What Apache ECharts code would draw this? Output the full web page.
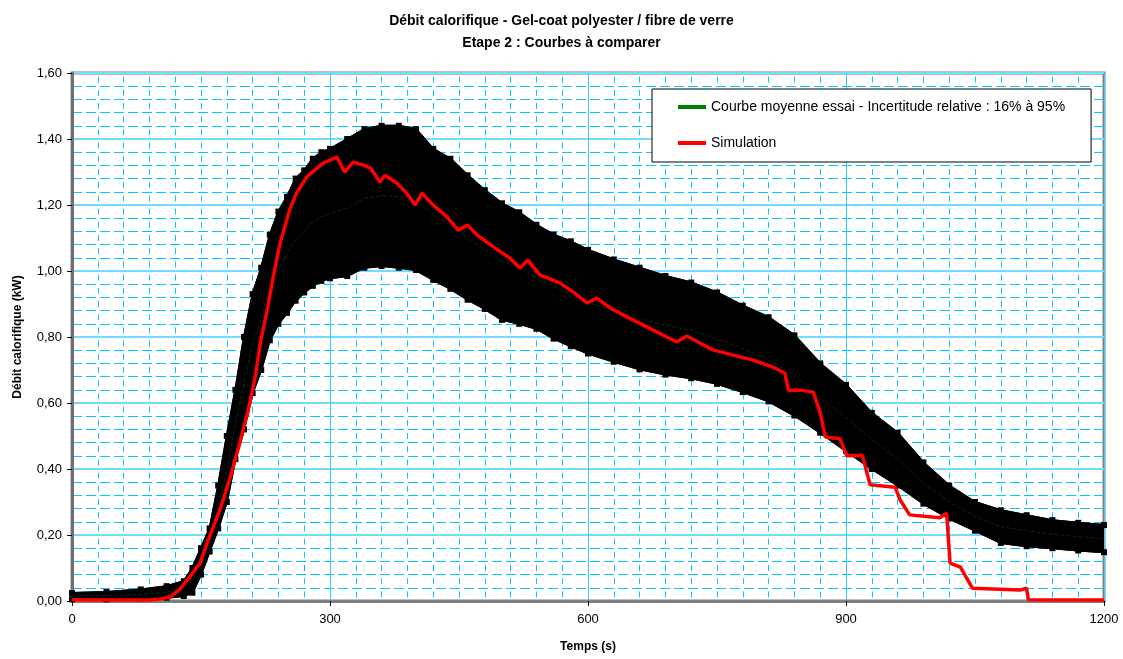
<!DOCTYPE html>
<html>
<head>
<meta charset="utf-8">
<script src="https://cdn.jsdelivr.net/npm/echarts@6/dist/echarts.min.js"></script>
<style>
html,body{margin:0;padding:0;background:#fff;}
#chart{width:1123px;height:659px;}
</style>
</head>
<body>
<div id="chart"></div>
<script>
// ---- Data ----
const bandTime = [0,40,80,110,130,140,150,160,170,180,190,200,210,220,230,240,250,260,270,280,290,300,320,340,360,380,400,420,440,460,480,500,520,540,560,580,600,630,660,690,720,750,780,810,840,870,900,930,960,990,1020,1050,1080,1110,1140,1170,1200];
const bandUpper = [0.024,0.027,0.035,0.045,0.06,0.10,0.16,0.22,0.35,0.50,0.64,0.80,0.93,1.01,1.11,1.18,1.225,1.28,1.305,1.34,1.36,1.37,1.40,1.43,1.44,1.44,1.43,1.37,1.34,1.29,1.245,1.205,1.178,1.14,1.11,1.09,1.064,1.035,1.01,0.985,0.965,0.935,0.895,0.86,0.805,0.72,0.655,0.57,0.51,0.42,0.35,0.30,0.275,0.26,0.245,0.237,0.23];
const bandLower = [0.005,0.005,0.008,0.01,0.015,0.025,0.08,0.15,0.22,0.30,0.43,0.52,0.63,0.70,0.79,0.84,0.873,0.91,0.935,0.955,0.97,0.978,0.985,1.01,1.015,1.01,1.003,0.973,0.946,0.913,0.885,0.852,0.84,0.825,0.795,0.772,0.75,0.725,0.702,0.686,0.675,0.658,0.633,0.605,0.562,0.51,0.455,0.40,0.35,0.295,0.25,0.213,0.176,0.166,0.16,0.153,0.148];
const meanCurve = [0.015,0.016,0.02,0.027,0.04,0.06,0.12,0.185,0.285,0.40,0.535,0.66,0.78,0.855,0.95,1.01,1.05,1.095,1.12,1.15,1.165,1.175,1.19,1.22,1.228,1.225,1.22,1.17,1.14,1.10,1.065,1.03,1.01,0.98,0.955,0.93,0.905,0.88,0.856,0.835,0.82,0.795,0.765,0.73,0.685,0.615,0.555,0.49,0.43,0.357,0.30,0.257,0.225,0.213,0.202,0.195,0.189];

const simTime = [0,50,90,100,114,125,137,149,157,165,172,184,195,205,213,219,227,234,242,253,261,273,292,308,317,327,339,347,358,364,378,389,399,407,420,436,449,460,471,490,509,521,530,544,567,583,599,610,626,645,669,687,703,715,730,745,769,792,815,829,833,847,862,870,876,893,901,919,928,957,963,974,1009,1017,1021,1033,1047,1102,1110,1112,1200];
const simValue = [0.004,0.003,0.003,0.005,0.012,0.035,0.073,0.115,0.175,0.23,0.276,0.376,0.478,0.579,0.679,0.782,0.882,0.982,1.085,1.185,1.236,1.285,1.327,1.345,1.30,1.33,1.321,1.312,1.27,1.29,1.266,1.236,1.2,1.236,1.2,1.164,1.124,1.139,1.109,1.073,1.039,1.009,1.033,0.988,0.964,0.936,0.903,0.918,0.888,0.861,0.83,0.806,0.785,0.803,0.782,0.761,0.745,0.73,0.709,0.69,0.639,0.639,0.633,0.57,0.497,0.492,0.44,0.442,0.352,0.345,0.306,0.261,0.252,0.266,0.115,0.103,0.039,0.033,0.039,0.004,0.003];

const titleText = 'Débit calorifique - Gel-coat polyester / fibre de verre\nEtape 2 : Courbes à comparer';
const meanName = 'Courbe moyenne essai - Incertitude relative : 16% à 95%';
const simName = 'Simulation';

// ---- Build series data ----
const upperData = bandTime.map((t, i) => [t, bandUpper[i]]);
const lowerData = bandTime.map((t, i) => [t, bandLower[i]]);
const meanData = bandTime.map((t, i) => [t, meanCurve[i]]);
const simData = simTime.map((t, i) => [t, simValue[i]]);

const chart = echarts.init(document.getElementById('chart'), null, {renderer: 'canvas'});
const FONT = '"Liberation Sans", Arial, sans-serif';

function renderBand(params, api) {
  const pts = [];
  for (let i = 0; i < bandTime.length; i++) pts.push(api.coord([bandTime[i], bandUpper[i]]));
  for (let i = bandTime.length - 1; i >= 0; i--) pts.push(api.coord([bandTime[i], bandLower[i]]));
  return {
    type: 'polygon',
    shape: {points: pts},
    style: {fill: '#000000', stroke: '#000000', lineWidth: 2}
  };
}

chart.setOption({
  backgroundColor: '#ffffff',
  animation: false,
  title: {
    text: titleText,
    left: 'center',
    top: 5,
    textStyle: {fontFamily: FONT, fontSize: 14, fontWeight: 'bold', color: '#000', lineHeight: 22}
  },
  legend: {
    orient: 'vertical',
    left: 652,
    top: 89,
    padding: [11, 26, 12, 26],
    itemGap: 22,
    itemWidth: 28,
    itemHeight: 4,
    backgroundColor: '#ffffff',
    borderColor: '#000000',
    borderWidth: 1,
    textStyle: {fontFamily: FONT, fontSize: 14, color: '#000'},
    data: [
      {name: meanName, icon: 'rect', itemStyle: {color: '#008000'}},
      {name: simName, icon: 'rect', itemStyle: {color: '#ff0000'}}
    ]
  },
  grid: {
    left: 72, right: 19, top: 73, bottom: 58,
    show: true,
    backgroundColor: '#ffffff',
    borderColor: '#808080',
    borderWidth: 3
  },
  xAxis: {
    type: 'value',
    min: 0, max: 1200, interval: 300,
    name: 'Temps (s)',
    nameLocation: 'middle',
    nameGap: 40,
    nameTextStyle: {fontFamily: FONT, fontSize: 12, fontWeight: 'bold', color: '#000'},
    axisLine: {show: true, onZero: false, lineStyle: {color: '#808080', width: 3}},
    axisTick: {show: true, length: 5, lineStyle: {color: '#000'}},
    axisLabel: {fontFamily: FONT, fontSize: 13, color: '#000', margin: 12, formatter: v => String(v)},
    splitLine: {show: true, lineStyle: {color: '#33ccff', width: 1}},
    minorTick: {show: false, splitNumber: 10},
    minorSplitLine: {show: true, lineStyle: {color: '#00c8ff', width: 1, type: [6, 7.2], dashOffset: 9.6}}
  },
  yAxis: {
    type: 'value',
    min: 0, max: 1.6, interval: 0.2,
    name: 'Débit calorifique (kW)',
    nameLocation: 'middle',
    nameGap: 48,
    nameTextStyle: {fontFamily: FONT, fontSize: 12, fontWeight: 'bold', color: '#000'},
    axisLine: {show: true, lineStyle: {color: '#707070', width: 3}},
    axisTick: {show: true, length: 5, lineStyle: {color: '#000'}},
    axisLabel: {fontFamily: FONT, fontSize: 13, color: '#000', margin: 10,
      formatter: v => v.toFixed(2).replace('.', ',')},
    splitLine: {show: true, lineStyle: {color: '#70dcff', width: 2}},
    minorTick: {show: false, splitNumber: 5},
    minorSplitLine: {show: true, lineStyle: {color: '#00c8ff', width: 1, type: [10, 4]}}
  },
  series: [
    {
      name: 'band', type: 'custom', renderItem: renderBand,
      data: [[0, 0]], silent: true, z: 2, clip: true
    },
    {
      name: 'upperEdge', type: 'line', data: upperData,
      symbol: 'rect', symbolSize: 6, itemStyle: {color: '#000'},
      lineStyle: {color: '#000', width: 2}, silent: true, z: 3
    },
    {
      name: 'lowerEdge', type: 'line', data: lowerData,
      symbol: 'rect', symbolSize: 6, itemStyle: {color: '#000'},
      lineStyle: {color: '#000', width: 2}, silent: true, z: 3
    },
    {
      name: meanName, type: 'line', data: meanData,
      symbol: 'none', color: '#008000',
      lineStyle: {color: '#0a2a0a', width: 1, type: 'dashed'}, z: 4
    },
    {
      name: simName, type: 'line', data: simData,
      symbol: 'none', color: '#ff0000',
      lineStyle: {color: '#ff0000', width: 3.5}, z: 5
    }
  ]
});
</script>
</body>
</html>
